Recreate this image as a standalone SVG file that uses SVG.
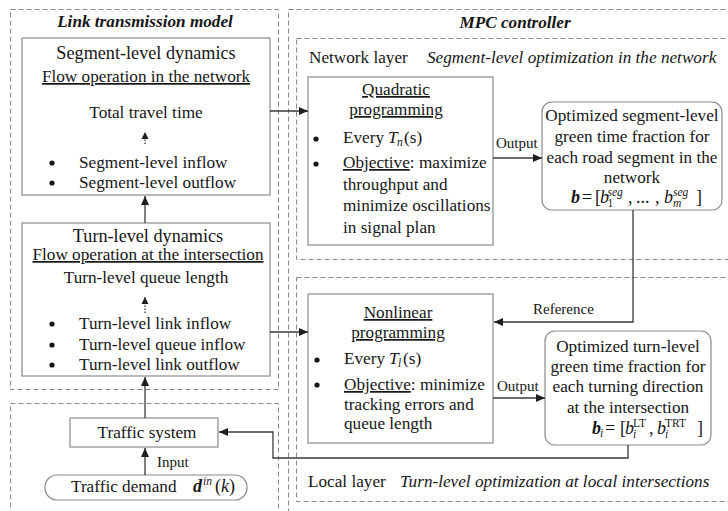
<svg xmlns="http://www.w3.org/2000/svg" width="728" height="511" viewBox="0 0 728 511">
  <style>
    text { font-family: "Liberation Serif", "DejaVu Serif", serif; font-size: 17.2px; fill: #161616; }
    .c { text-anchor: middle; }
    .bi { font-weight: bold; font-style: italic; }
    .it { font-style: italic; }
    .u { text-decoration: underline; }
    .ttl { font-size: 18.2px; }
    .sm { font-size: 15px; }
    .m { font-size: 18px; }
    .sup { font-size: 11.5px; }
    .frame { fill: none; stroke: #8a8a8a; stroke-width: 1; stroke-dasharray: 5 3; }
    .box { fill: #fff; stroke: #8a8a8a; stroke-width: 1.2; }
    .link { fill: none; stroke: #3a3a3a; stroke-width: 1.3; }
    .dot { fill: none; stroke: #3a3a3a; stroke-width: 1.3; stroke-dasharray: 1.5 1.5; }
  </style>
  <defs>
    <marker id="arrow" markerUnits="userSpaceOnUse" markerWidth="10" markerHeight="8" refX="9" refY="4" orient="auto">
      <path d="M0,0 L9,4 L0,8 z" fill="#1e1e1e"/>
    </marker>
    <marker id="arrow-small" markerUnits="userSpaceOnUse" markerWidth="8" markerHeight="8" refX="7" refY="4" orient="auto">
      <path d="M0,0.5 L7,4 L0,7.5 z" fill="#1e1e1e"/>
    </marker>
  </defs>

  <rect width="728" height="511" fill="#fff"/>

  <!-- dashed frames -->
  <g id="frames">
    <rect class="frame" x="10.5" y="9.5" width="268" height="380"/>
    <rect class="frame" x="10.5" y="403.5" width="268" height="120"/>
    <rect class="frame" x="288.5" y="9.5" width="460" height="520"/>
    <rect class="frame" x="296.5" y="38.5" width="450" height="221"/>
    <rect class="frame" x="296.5" y="277.5" width="450" height="224"/>
    <text class="bi c" x="145" y="27">Link transmission model</text>
    <text class="bi c" x="515" y="28">MPC controller</text>
    <text x="309" y="63">Network layer</text>
    <text class="it" x="427" y="63">Segment-level optimization in the network</text>
    <text x="308" y="487">Local layer</text>
    <text class="it" x="400" y="487">Turn-level optimization at local intersections</text>
  </g>

  <!-- segment-level dynamics -->
  <g id="segment-dynamics">
    <rect class="box" x="22" y="38" width="248" height="157"/>
    <text class="c ttl" x="146" y="59">Segment-level dynamics</text>
    <text class="c u" x="146" y="82">Flow operation in the network</text>
    <text class="c" x="146" y="118">Total travel time</text>
    <line class="dot" x1="145" y1="144" x2="145" y2="132" marker-end="url(#arrow-small)"/>
    <circle cx="52" cy="163" r="2.6" fill="#161616"/>
    <circle cx="52" cy="183" r="2.6" fill="#161616"/>
    <text x="79" y="168">Segment-level inflow</text>
    <text x="79" y="188">Segment-level outflow</text>
  </g>

  <!-- turn-level dynamics -->
  <g id="turn-dynamics">
    <rect class="box" x="22" y="223" width="248" height="153"/>
    <text class="c ttl" x="148" y="242">Turn-level dynamics</text>
    <text class="c u" x="148" y="260">Flow operation at the intersection</text>
    <text class="c" x="146" y="283">Turn-level queue length</text>
    <line class="dot" x1="145" y1="313" x2="145" y2="297" marker-end="url(#arrow-small)"/>
    <circle cx="52" cy="324" r="2.6" fill="#161616"/>
    <circle cx="52" cy="345" r="2.6" fill="#161616"/>
    <circle cx="52" cy="365" r="2.6" fill="#161616"/>
    <text x="79" y="329">Turn-level link inflow</text>
    <text x="79" y="350">Turn-level queue inflow</text>
    <text x="79" y="370">Turn-level link outflow</text>
  </g>

  <!-- traffic system -->
  <g id="traffic-system">
    <rect class="box" x="70" y="418" width="148" height="29"/>
    <text class="c" x="147" y="438">Traffic system</text>
  </g>

  <!-- traffic demand -->
  <g id="traffic-demand">
    <rect class="box" x="45" y="475" width="202" height="25" rx="12"/>
    <text x="71" y="492">Traffic demand<tspan class="bi m" x="193">d</tspan><tspan class="it sup" x="203" y="485">in</tspan><tspan class="m" x="215" y="492">(</tspan><tspan class="it m">k</tspan><tspan class="m">)</tspan></text>
  </g>

  <!-- quadratic programming -->
  <g id="quadratic-programming">
    <rect class="box" x="308" y="77" width="185" height="168"/>
    <text class="c u" x="396" y="95">Quadratic</text>
    <text class="c u" x="396" y="115">programming</text>
    <circle cx="316" cy="139" r="2.6" fill="#161616"/>
    <circle cx="316" cy="164" r="2.6" fill="#161616"/>
    <text x="343" y="143">Every<tspan class="it" x="388">T</tspan><tspan class="it sup" x="397" y="146">n</tspan><tspan x="404" y="143">(s)</tspan></text>
    <text x="343" y="168"><tspan class="u">Objective</tspan>: maximize</text>
    <text x="343" y="189.5">throughput and</text>
    <text x="343" y="211">minimize oscillations</text>
    <text x="343" y="232.5">in signal plan</text>
  </g>

  <!-- optimized segment-level green time -->
  <g id="segment-output">
    <rect class="box" x="542" y="102" width="180" height="108" rx="10"/>
    <text class="c" x="632" y="121">Optimized segment-level</text>
    <text class="c" x="632" y="142">green time fraction for</text>
    <text class="c" x="632" y="163">each road segment in the</text>
    <text class="c" x="632" y="183">network</text>
    <text class="m" x="571" y="203"><tspan class="bi">b</tspan><tspan x="582">=</tspan><tspan x="595">[</tspan><tspan class="it" x="600">b</tspan><tspan class="sup" x="607.5" y="207">1</tspan><tspan class="it sup" x="607.5" y="196">seg</tspan><tspan x="628" y="203">,</tspan><tspan x="636">...</tspan><tspan x="655">,</tspan><tspan class="it" x="664">b</tspan><tspan class="it sup" x="673" y="207">m</tspan><tspan class="it sup" x="673" y="196">seg</tspan><tspan x="696" y="203">]</tspan></text>
  </g>

  <!-- nonlinear programming -->
  <g id="nonlinear-programming">
    <rect class="box" x="308" y="294" width="185" height="149"/>
    <text class="c u" x="398" y="318">Nonlinear</text>
    <text class="c u" x="398" y="338">programming</text>
    <circle cx="317" cy="360" r="2.6" fill="#161616"/>
    <circle cx="317" cy="385" r="2.6" fill="#161616"/>
    <text x="344" y="364">Every<tspan class="it" x="389">T</tspan><tspan class="it sup" x="398" y="367">l</tspan><tspan x="403" y="364">(s)</tspan></text>
    <text x="344" y="390"><tspan class="u">Objective</tspan>: minimize</text>
    <text x="344" y="410">tracking errors and</text>
    <text x="344" y="429">queue length</text>
  </g>

  <!-- optimized turn-level green time -->
  <g id="turn-output">
    <rect class="box" x="545" y="331" width="166" height="114" rx="10"/>
    <text class="c" x="628" y="352">Optimized turn-level</text>
    <text class="c" x="628" y="372">green time fraction for</text>
    <text class="c" x="628" y="392">each turning direction</text>
    <text class="c" x="628" y="413">at the intersection</text>
    <text class="m" x="592" y="434"><tspan class="bi">b</tspan><tspan class="it sup" x="600" y="437">i</tspan><tspan x="605" y="434">=</tspan><tspan x="620">[</tspan><tspan class="it" x="625">b</tspan><tspan class="it sup" x="633" y="438">i</tspan><tspan class="sup" x="633" y="427">LT</tspan><tspan x="649" y="434">,</tspan><tspan class="it" x="657">b</tspan><tspan class="it sup" x="665" y="438">i</tspan><tspan class="sup" x="665" y="427">TRT</tspan><tspan x="697" y="434">]</tspan></text>
  </g>

  <!-- connectors, drawn above the node boxes -->
  <g id="connectors">
    <line class="link" x1="145" y1="223" x2="145" y2="196" marker-end="url(#arrow)"/>
    <line class="link" x1="145" y1="418" x2="145" y2="377" marker-end="url(#arrow)"/>
    <line class="link" x1="145" y1="475" x2="145" y2="448" marker-end="url(#arrow)"/>
    <line class="link" x1="270" y1="111" x2="308" y2="111" marker-end="url(#arrow)"/>
    <line class="link" x1="270" y1="332" x2="308" y2="332" marker-end="url(#arrow)"/>
    <line class="link" x1="493" y1="158" x2="542" y2="158" marker-end="url(#arrow)"/>
    <line class="link" x1="493" y1="398" x2="545" y2="398" marker-end="url(#arrow)"/>
    <polyline class="link" points="633,210 633,322 494,322" marker-end="url(#arrow)"/>
    <polyline class="link" points="628,445 628,458 273,458 273,432 219,432" marker-end="url(#arrow)"/>
    <text class="sm" x="496" y="148">Output</text>
    <text class="sm" x="497" y="391">Output</text>
    <text class="sm" x="533" y="314">Reference</text>
    <text class="sm" x="157" y="467">Input</text>
  </g>
</svg>
